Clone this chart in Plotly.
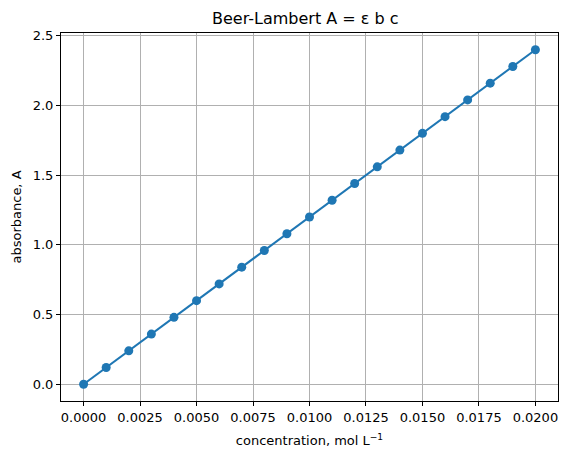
import plotly.graph_objects as go

concentration = [0.000, 0.001, 0.002, 0.003, 0.004, 0.005, 0.006, 0.007, 0.008, 0.009, 0.010,
                 0.011, 0.012, 0.013, 0.014, 0.015, 0.016, 0.017, 0.018, 0.019, 0.020]
absorbance = [0.00, 0.12, 0.24, 0.36, 0.48, 0.60, 0.72, 0.84, 0.96, 1.08, 1.20,
              1.32, 1.44, 1.56, 1.68, 1.80, 1.92, 2.04, 2.16, 2.28, 2.40]

x_ticks = [0.0, 0.0025, 0.005, 0.0075, 0.01, 0.0125, 0.015, 0.0175, 0.02]
x_ticklabels = ["0.0000", "0.0025", "0.0050", "0.0075", "0.0100", "0.0125", "0.0150", "0.0175", "0.0200"]
y_ticks = [0.0, 0.5, 1.0, 1.5, 2.0, 2.5]
y_ticklabels = ["0.0", "0.5", "1.0", "1.5", "2.0", "2.5"]

blue = "#1f77b4"
font = "DejaVu Sans"

fig = go.Figure()
fig.add_trace(go.Scatter(
    x=concentration, y=absorbance, mode="lines+markers",
    line=dict(color=blue, width=2.1),
    marker=dict(color=blue, size=9),
))

axis_common = dict(
    showline=True, linecolor="black", linewidth=1.1, mirror=True,
    ticks="outside", ticklen=4, tickwidth=1, tickcolor="black",
    showgrid=True, gridcolor="#b0b0b0", gridwidth=1, zeroline=False,
    tickfont=dict(family=font, size=13, color="black"),
    automargin=False,
)

fig.update_layout(
    width=568, height=461,
    margin=dict(l=61, r=10, t=33, b=60),
    paper_bgcolor="white", plot_bgcolor="white",
    showlegend=False,
    font=dict(family=font, color="black"),
    title=dict(text="Beer-Lambert A = ε b c", x=0.5375, xanchor="center",
               y=1 - 18 / 461, yanchor="middle", yref="container",
               font=dict(family=font, size=16, color="black")),
    xaxis=dict(range=[-0.001, 0.021], tickvals=x_ticks, ticktext=x_ticklabels,
               title=dict(text="concentration, mol L<sup>−1</sup>", standoff=12,
                          font=dict(family=font, size=13, color="black")),
               **axis_common),
    yaxis=dict(range=[-0.12, 2.52], tickvals=y_ticks, ticktext=y_ticklabels,
               title=dict(text="absorbance, A", standoff=8,
                          font=dict(family=font, size=13, color="black")),
               **axis_common),
)

fig.write_html("out.html", config={"displayModeBar": False},
               post_script="document.body.style.margin='0';document.body.style.overflow='hidden';")
